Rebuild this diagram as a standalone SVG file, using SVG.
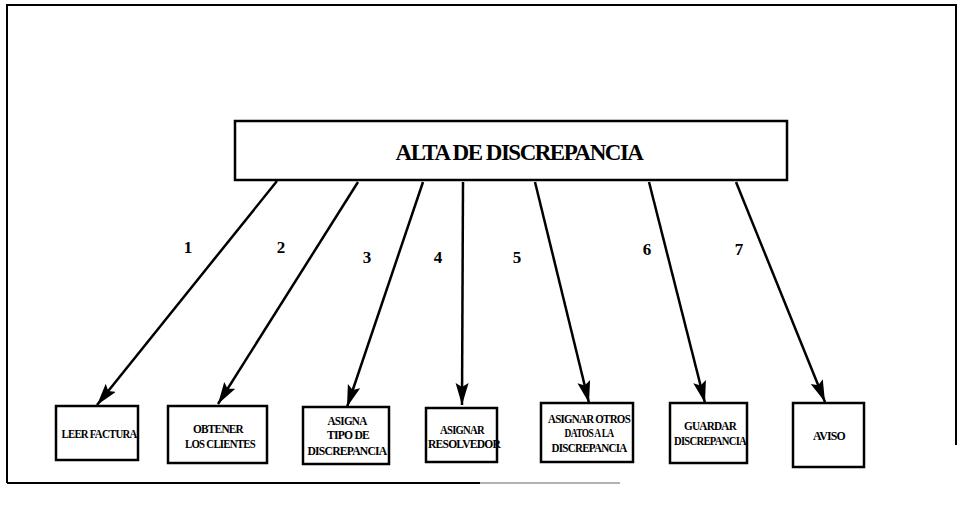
<svg xmlns="http://www.w3.org/2000/svg" width="961" height="507" viewBox="0 0 961 507">
<style>
.box{fill:#fff;stroke:#000;stroke-width:2.5}
.frame{fill:none;stroke:#000;stroke-width:2}
.conn{stroke:#000;stroke-width:2.5;fill:none}
.t{font-family:"Liberation Serif","Times New Roman","DejaVu Serif",serif;font-weight:bold;fill:#000;text-anchor:middle}
.s{font-size:12px;letter-spacing:-0.8px}
.title{font-size:23px;letter-spacing:-1.5px}
.num{font-size:17px}
</style>
<defs>
<marker id="ah" markerUnits="userSpaceOnUse" markerWidth="24" markerHeight="14" refX="22" refY="6.5" orient="auto">
<path d="M0,0 L22,6.5 L0,13 L4,6.5 z" fill="#000"/>
</marker>
</defs>
<g id="frame">
<path class="frame" d="M7,483 V5 H956 V445"/>
<path class="frame" d="M7,483 H480"/>
<path d="M480,483 H620" stroke="#999" stroke-width="1.5" fill="none"/>
</g>
<g id="alta">
<rect class="box" x="235" y="121" width="552" height="59"/>
<text class="t title" x="519" y="160">ALTA DE DISCREPANCIA</text>
</g>
<g id="connectors">
<line class="conn" x1="277" y1="181" x2="97" y2="405" marker-end="url(#ah)"/>
<line class="conn" x1="358" y1="182" x2="218" y2="404" marker-end="url(#ah)"/>
<line class="conn" x1="423" y1="182" x2="347" y2="407" marker-end="url(#ah)"/>
<line class="conn" x1="463" y1="182" x2="462" y2="405" marker-end="url(#ah)"/>
<line class="conn" x1="535" y1="182" x2="589" y2="403" marker-end="url(#ah)"/>
<line class="conn" x1="649" y1="182" x2="705" y2="403" marker-end="url(#ah)"/>
<line class="conn" x1="736" y1="182" x2="825" y2="402" marker-end="url(#ah)"/>
</g>
<g id="labels">
<text class="t num" x="188" y="253">1</text>
<text class="t num" x="281" y="253">2</text>
<text class="t num" x="367" y="263">3</text>
<text class="t num" x="438" y="263">4</text>
<text class="t num" x="517" y="263">5</text>
<text class="t num" x="647" y="255">6</text>
<text class="t num" x="739" y="255">7</text>
</g>
<g id="n1">
<rect class="box" x="56" y="406" width="82" height="54"/>
<text class="t s" x="99" y="438" textLength="75" lengthAdjust="spacingAndGlyphs">LEER FACTURA</text>
</g>
<g id="n2">
<rect class="box" x="168" y="406" width="99" height="57"/>
<text class="t s" x="218" y="433" textLength="50" lengthAdjust="spacingAndGlyphs">OBTENER</text>
<text class="t s" x="220" y="448" textLength="70" lengthAdjust="spacingAndGlyphs">LOS CLIENTES</text>
</g>
<g id="n3">
<rect class="box" x="303" y="407" width="86" height="57"/>
<text class="t s" x="347" y="425" textLength="39" lengthAdjust="spacingAndGlyphs">ASIGNA</text>
<text class="t s" x="348" y="439" textLength="42" lengthAdjust="spacingAndGlyphs">TIPO DE</text>
<text class="t s" x="347" y="455" textLength="79" lengthAdjust="spacingAndGlyphs">DISCREPANCIA</text>
</g>
<g id="n4">
<rect class="box" x="426" y="408" width="71" height="54"/>
<text class="t s" x="462" y="434" textLength="44" lengthAdjust="spacingAndGlyphs">ASIGNAR</text>
<text class="t s" x="464" y="448" textLength="72" lengthAdjust="spacingAndGlyphs">RESOLVEDOR</text>
</g>
<g id="n5">
<rect class="box" x="541" y="403" width="92" height="59"/>
<text class="t s" x="589" y="423" textLength="82" lengthAdjust="spacingAndGlyphs">ASIGNAR OTROS</text>
<text class="t s" x="589" y="437" textLength="49" lengthAdjust="spacingAndGlyphs">DATOS A LA</text>
<text class="t s" x="589" y="452" textLength="75" lengthAdjust="spacingAndGlyphs">DISCREPANCIA</text>
</g>
<g id="n6">
<rect class="box" x="670" y="403" width="77" height="60"/>
<text class="t s" x="710" y="430" textLength="52" lengthAdjust="spacingAndGlyphs">GUARDAR</text>
<text class="t s" x="710" y="445" textLength="72" lengthAdjust="spacingAndGlyphs">DISCREPANCIA</text>
</g>
<g id="n7">
<rect class="box" x="793" y="403" width="71" height="64"/>
<text class="t s" x="829" y="440" textLength="32" lengthAdjust="spacingAndGlyphs">AVISO</text>
</g>
</svg>
